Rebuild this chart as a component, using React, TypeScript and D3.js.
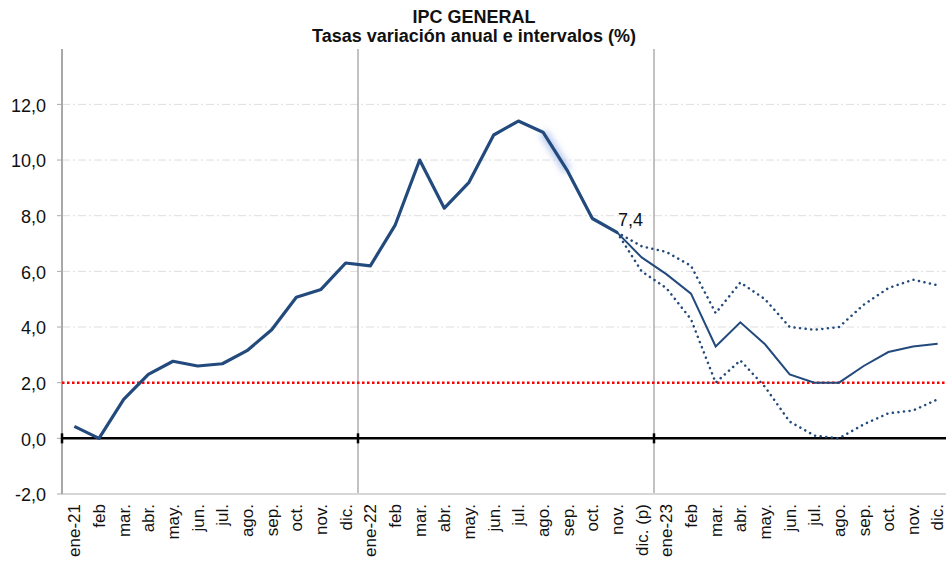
import React from 'react';
import * as d3 from 'd3';

const months = [
  'ene-21', 'feb', 'mar.', 'abr.', 'may.', 'jun.', 'jul.', 'ago.', 'sep.', 'oct.', 'nov.', 'dic.',
  'ene-22', 'feb', 'mar.', 'abr.', 'may.', 'jun.', 'jul.', 'ago.', 'sep.', 'oct.', 'nov.', 'dic. (p)',
  'ene-23', 'feb', 'mar.', 'abr.', 'may.', 'jun.', 'jul.', 'ago.', 'sep.', 'oct.', 'nov.', 'dic.',
];

// observed annual rate, ene-21 .. nov-22
const observed = [
  0.43, 0.0, 1.4, 2.3, 2.77, 2.6, 2.68, 3.15, 3.9, 5.07, 5.35, 6.3,
  6.2, 7.65, 10.0, 8.27, 9.2, 10.9, 11.4, 11.0, 9.6, 7.9, 7.4,
];

// forecast from nov-22 .. dic-23
const forecastStart = 22;
const central = [7.4, 6.5, 5.9, 5.2, 3.3, 4.17, 3.38, 2.3, 2.0, 2.0, 2.6, 3.1, 3.3, 3.4];
const upper = [7.4, 6.9, 6.7, 6.2, 4.5, 5.6, 5.0, 4.0, 3.9, 4.0, 4.8, 5.4, 5.7, 5.5];
const lower = [7.4, 6.0, 5.4, 4.28, 2.0, 2.8, 1.85, 0.6, 0.1, 0.0, 0.5, 0.9, 1.0, 1.4];

const target = 2.0;
const yTicks = [-2, 0, 2, 4, 6, 8, 10, 12];
const gridTicks = [4, 6, 8, 10, 12];
const yearBreaks = [0, 12, 24];

export default function App() {
  const width = 946;
  const height = 566;
  const left = 62;
  const top = 49;
  const bottom = 494;

  const x = d3.scaleBand<number>().domain(d3.range(months.length)).range([left, 950]);
  const cx = (i: number) => (x(i) as number) + x.bandwidth() / 2;
  const y = d3.scaleLinear().domain([-2, 14]).range([bottom, bottom - 16 * 27.83]);

  const line = d3.line<[number, number]>().x(d => cx(d[0])).y(d => y(d[1]));
  const obsPts: [number, number][] = observed.map((v, i) => [i, v]);
  const fc = (arr: number[]) => arr.map((v, i) => [forecastStart + i, v] as [number, number]);
  const glow: [number, number][] = [[19, observed[19]], [20, observed[20]]];

  const font = 'Arial, "Liberation Sans", Helvetica, sans-serif';
  const navy = '#234a7c';
  const fmt = (v: number) => d3.format('.1f')(v).replace('.', ',').replace('−', '-');

  return (
    <svg width={width} height={height} style={{ position: 'absolute', left: 0, top: 0, fontFamily: font }}>
      <defs>
        <filter id="blur" x="-50%" y="-50%" width="200%" height="200%">
          <feGaussianBlur stdDeviation="3" />
        </filter>
      </defs>
      <rect width={width} height={height} fill="#fff" />
      <text x={474} y={23} textAnchor="middle" fontWeight="bold" fontSize={18} fill="#111">IPC GENERAL</text>
      <text x={474} y={42} textAnchor="middle" fontWeight="bold" fontSize={18} fill="#111">Tasas variación anual e intervalos (%)</text>

      {gridTicks.map(t => (
        <line key={t} x1={left} x2={width} y1={y(t)} y2={y(t)} stroke="#dedede" strokeWidth={1} strokeDasharray="8 3 2 3" />
      ))}

      {yearBreaks.slice(1).map(i => (
        <line key={i} x1={x(i)} x2={x(i)} y1={top} y2={bottom} stroke="#999" strokeWidth={1.2} />
      ))}

      <line x1={left} x2={width} y1={bottom} y2={bottom} stroke="#d6d6d6" strokeWidth={2} />
      <line x1={left} x2={left} y1={top} y2={bottom} stroke="#a8a8a8" strokeWidth={2} />

      {yTicks.map(t => (
        <g key={t}>
          <line x1={left - 5} x2={left} y1={y(t)} y2={y(t)} stroke="#a8a8a8" strokeWidth={1} />
          <text x={46} y={y(t)} dy="0.4em" textAnchor="end" fontSize={18} fill="#111">
            {fmt(t)}
          </text>
        </g>
      ))}

      <line x1={left} x2={width} y1={y(target)} y2={y(target)} stroke="#ff0000" strokeWidth={2.5} strokeDasharray="2.5 2.5" />

      <line x1={left} x2={width} y1={y(0)} y2={y(0)} stroke="#000" strokeWidth={2.5} />
      {yearBreaks.map(i => (
        <line key={i} x1={x(i)} x2={x(i)} y1={y(0) - 5} y2={y(0) + 5} stroke="#000" strokeWidth={2.5} />
      ))}

      <path d={line(glow) || ''} fill="none" stroke="#9fb6e6" strokeOpacity={0.7} strokeWidth={9} filter="url(#blur)" />
      <path d={line(obsPts) || ''} fill="none" stroke={navy} strokeWidth={3.2} strokeLinejoin="round" />
      <path d={line(fc(central)) || ''} fill="none" stroke={navy} strokeWidth={2} />
      <path d={line(fc(upper)) || ''} fill="none" stroke={navy} strokeWidth={2.5} strokeDasharray="0.1 5.5" strokeLinecap="round" />
      <path d={line(fc(lower)) || ''} fill="none" stroke={navy} strokeWidth={2.5} strokeDasharray="0.1 5.5" strokeLinecap="round" />

      <text x={cx(forecastStart) + 1} y={y(observed[forecastStart]) - 6} fontSize={18} fill="#111">
        {fmt(observed[forecastStart])}
      </text>

      {months.map((m, i) => (
        <text key={i} transform={`translate(${Math.min(cx(i) + 6, width - 3)},504) rotate(-90)`} textAnchor="end" fontSize={17} fill="#111">
          {m}
        </text>
      ))}
    </svg>
  );
}
